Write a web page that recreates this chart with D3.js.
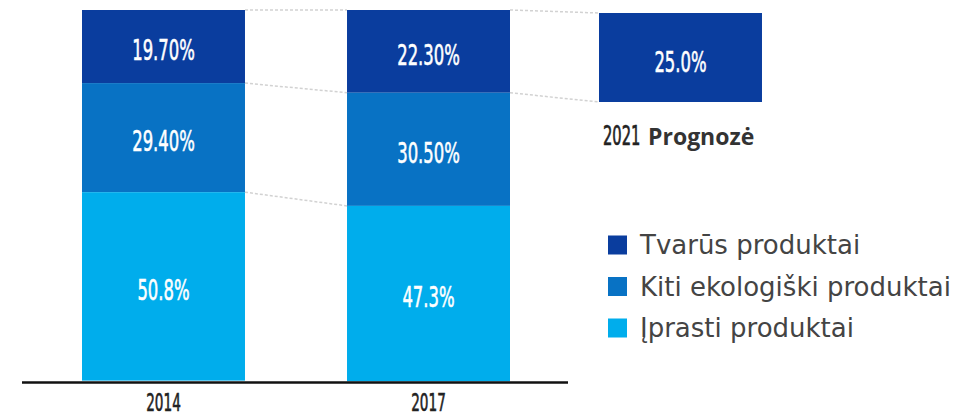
<!DOCTYPE html>
<html>
<head>
<meta charset="utf-8">
<script src="https://cdn.jsdelivr.net/npm/d3@7"></script>
<style>
  body { margin: 0; background: #fff; }
</style>
</head>
<body>
<div id="chart"></div>
<script>
// data
var years = ["2014", "2017"]
var seriesNames = ["Tvarūs produktai", "Kiti ekologiški produktai", "Įprasti produktai"]
var tvarus = [19.7, 22.3]
var kiti = [29.4, 30.5]
var iprasti = [50.8, 47.3]
var tvarusLabels = ["19.70%", "22.30%"]
var kitiLabels = ["29.40%", "30.50%"]
var iprastiLabels = ["50.8%", "47.3%"]
var forecastYear = "2021"
var forecastWord = "Prognozė"
var forecastValue = 25.0
var forecastLabel = "25.0%"

var colors = ["#0a3d9e", "#0872c4", "#00adec"]

var width = 960, height = 418;

var svg = d3.select("#chart")
  .append("svg")
    .attr("width", width)
    .attr("height", height)

// build stacked rows from the arrays (top segment first)
var rows = years.map(function(y, i) {
  return {year: y, vals: [tvarus[i], kiti[i], iprasti[i]], labels: [tvarusLabels[i], kitiLabels[i], iprastiLabels[i]]}
})

var x = d3.scaleBand().domain(years).range([82, 510]).paddingInner(0.385).paddingOuter(0);
var y = d3.scaleLinear().domain([0, 100]).range([381, 10]);
// forecast bar sits a little lower and is drawn on its own scale
var yF = d3.scaleLinear().domain([0, 100]).range([369, 13]);
var xF = 599;

// segments: top of stack = 100, going down
var segs = []
rows.forEach(function(r) {
  var top = 100
  r.vals.forEach(function(v, k) {
    segs.push({year: r.year, k: k, top: top, bottom: top - v, label: r.labels[k]})
    top = top - v
  })
})

// dashed connectors between bars
var conn = []
for (var k = 0; k < 3; k++) {
  var t0 = 100 - d3.sum(rows[0].vals.slice(0, k))
  var t1 = 100 - d3.sum(rows[1].vals.slice(0, k))
  conn.push({x1: x("2014") + x.bandwidth(), y1: y(t0), x2: x("2017"), y2: y(t1)})
}
conn.push({x1: x("2017") + x.bandwidth(), y1: y(100), x2: xF, y2: yF(100)})
conn.push({x1: x("2017") + x.bandwidth(), y1: y(100 - tvarus[1]), x2: xF, y2: yF(100 - forecastValue)})

svg.selectAll(".conn")
  .data(conn)
  .enter().append("line")
    .attr("class", "conn")
    .attr("x1", function(d) { return d.x1 })
    .attr("y1", function(d) { return d.y1 })
    .attr("x2", function(d) { return d.x2 })
    .attr("y2", function(d) { return d.y2 })
    .attr("stroke", "#d2d2d2")
    .attr("stroke-width", 1.5)
    .attr("stroke-dasharray", "3,2")

svg.selectAll(".seg")
  .data(segs)
  .enter().append("rect")
    .attr("class", "seg")
    .attr("x", function(d) { return x(d.year) })
    .attr("y", function(d) { return y(d.top) })
    .attr("width", x.bandwidth())
    .attr("height", function(d) { return y(d.bottom) - y(d.top) })
    .attr("fill", function(d) { return colors[d.k] })

var numFont = "'DejaVu Sans Condensed', 'Liberation Sans Narrow', sans-serif"

function numStyle(sel, size, col) {
  sel.style("font-family", numFont)
    .style("font-size", size + "px")
    .attr("fill", col)
    .attr("stroke", col)
    .attr("stroke-width", 0.6)
}

svg.selectAll(".segLabel")
  .data(segs)
  .enter().append("text")
    .attr("class", "segLabel")
    .attr("transform", function(d) {
      var cx = x(d.year) + x.bandwidth() / 2
      var cy = (y(d.top) + y(d.bottom)) / 2 + 3
      return "translate(" + cx + "," + cy + ") scale(0.63,1)"
    })
    .attr("text-anchor", "middle")
    .attr("dy", "0.36em")
    .call(numStyle, 29, "#fff")
    .text(function(d) { return d.label })

// forecast bar
svg.append("rect")
  .attr("x", xF)
  .attr("y", yF(100))
  .attr("width", x.bandwidth())
  .attr("height", yF(100 - forecastValue) - yF(100))
  .attr("fill", colors[0])

svg.append("text")
  .attr("transform", "translate(" + (xF + x.bandwidth() / 2) + "," + ((yF(100) + yF(100 - forecastValue)) / 2 + 4) + ") scale(0.63,1)")
  .attr("text-anchor", "middle")
  .attr("dy", "0.36em")
  .call(numStyle, 29, "#fff")
  .text(forecastLabel)

svg.append("text")
  .attr("transform", "translate(" + (xF + 4) + ",145) scale(0.63,1)")
  .call(numStyle, 26, "#222")
  .text(forecastYear)

svg.append("text")
  .attr("x", xF + 49)
  .attr("y", 145)
  .attr("fill", "#333")
  .style("font-family", "'Open Sans', sans-serif")
  .style("font-weight", "bold")
  .style("font-size", "23px")
  .text(forecastWord)

// baseline
svg.append("line")
  .attr("x1", 22)
  .attr("x2", 568)
  .attr("y1", y(0) + 1.5)
  .attr("y2", y(0) + 1.5)
  .attr("stroke", "#111")
  .attr("stroke-width", 2.5)

// year labels
var xAxis = d3.axisBottom(x).tickSize(0).tickPadding(0)
var ax = svg.append("g")
  .attr("transform", "translate(0," + (y(0) + 30) + ")")
  .call(xAxis)
ax.select(".domain").remove()
ax.selectAll("text")
  .attr("y", 0)
  .attr("dy", 0)
  .attr("transform", "scale(0.63,1)")
  .call(numStyle, 24, "#222")
ax.selectAll(".tick")
  .attr("transform", function(d) { return "translate(" + (x(d) + x.bandwidth() / 2) + ",0)" })

// legend
var legend = svg.selectAll(".legend")
  .data(seriesNames)
  .enter().append("g")
    .attr("class", "legend")
    .attr("transform", function(d, i) { return "translate(608," + (245 + i * 41.5) + ")" })

legend.append("rect")
  .attr("x", 0)
  .attr("y", -9.5)
  .attr("width", 19)
  .attr("height", 19)
  .attr("fill", function(d, i) { return colors[i] })

legend.append("text")
  .attr("x", 32)
  .attr("dy", "0.36em")
  .attr("fill", "#444")
  .style("font-family", "'DejaVu Sans', sans-serif")
  .style("font-size", "26px")
  .text(function(d) { return d })
</script>
</body>
</html>
